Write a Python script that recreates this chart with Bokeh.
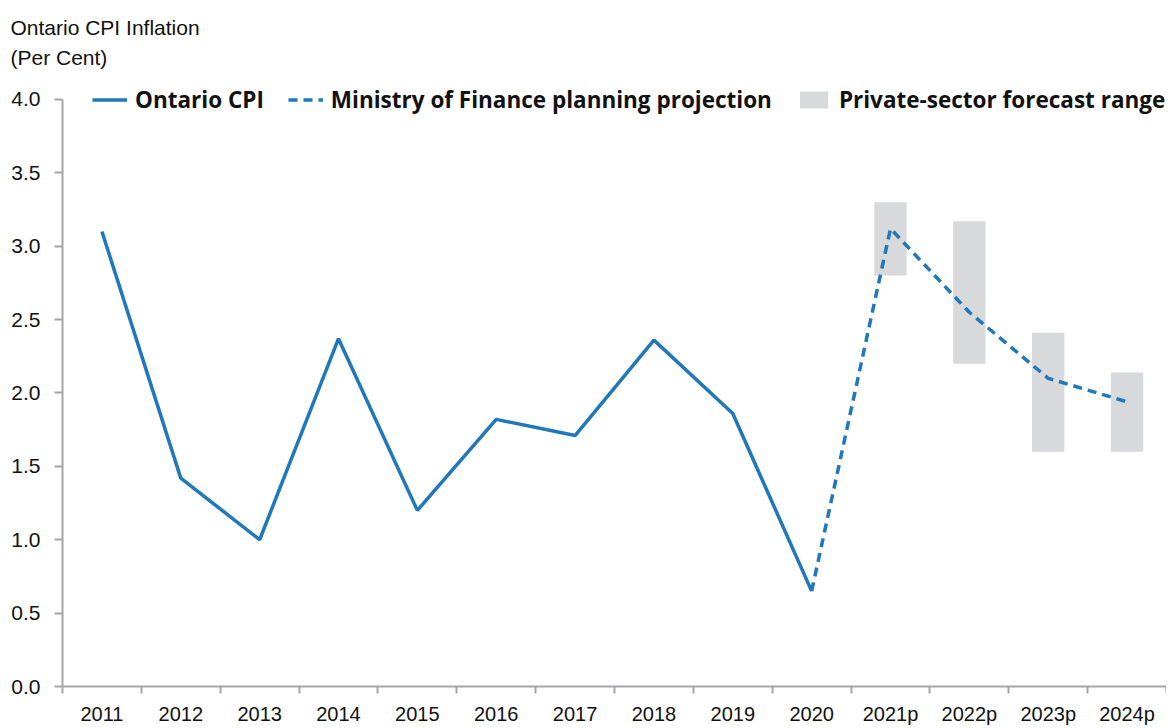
import numpy as np
from bokeh.plotting import figure
from bokeh.models import (Range1d, FixedTicker, Legend, LegendItem, Title)
from bokeh.embed import file_html
from bokeh.resources import INLINE

# ---- data ----
categories = ["2011", "2012", "2013", "2014", "2015", "2016", "2017",
              "2018", "2019", "2020", "2021p", "2022p", "2023p", "2024p"]
ontario_cpi = [3.10, 1.42, 1.00, 2.37, 1.20, 1.82, 1.71, 2.36, 1.86, 0.65]
projection_cats = ["2020", "2021p", "2022p", "2023p", "2024p"]
projection = [0.65, 3.12, 2.55, 2.10, 1.94]
range_cats = ["2021p", "2022p", "2023p", "2024p"]
range_low = [2.80, 2.20, 1.60, 1.60]
range_high = [3.30, 3.17, 2.41, 2.14]
y_ticks = [0.0, 0.5, 1.0, 1.5, 2.0, 2.5, 3.0, 3.5, 4.0]

pos = {c: i + 0.5 for i, c in enumerate(categories)}

BLUE = "#1F77BC"
GREY_AX = "#A6A6AA"
BAR = "#D8D9DB"
TICK_FONT = "Liberation Sans"
LEG_FONT = "Open Sans"

p = figure(width=1166, height=727, output_backend="svg", toolbar_location=None,
           x_range=Range1d(0, len(categories)), y_range=Range1d(0, 4.1293),
           min_border_left=62, min_border_right=0, min_border_top=80,
           min_border_bottom=40)
p.outline_line_color = None
p.xgrid.grid_line_color = None
p.ygrid.grid_line_color = None

# title
p.title = Title(text="Ontario CPI Inflation\n(Per Cent)", align="left", offset=-52,
                text_font=TICK_FONT, text_font_size="21px", text_font_style="normal",
                text_color="#111111", standoff=23, text_line_height=1.3)

# range bars
p.vbar(x=[pos[c] for c in range_cats], width=0.41, bottom=range_low, top=range_high,
       fill_color=BAR, line_color=None)
# ontario cpi
r_cpi = p.line([pos[c] for c in categories[:len(ontario_cpi)]], ontario_cpi,
               line_color=BLUE, line_width=3.5)
r_proj = p.line([pos[c] for c in projection_cats], projection,
                line_color=BLUE, line_width=3.5, line_dash="9 6")
r_box = p.rect(x=[0], y=[0], width=0, height=0, fill_color=BAR, line_color=None)

# axes
xa = p.xaxis[0]
xa.ticker = FixedTicker(ticks=[pos[c] for c in categories],
                        minor_ticks=list(range(len(categories) + 1)))
xa.major_label_overrides = {pos[c]: c for c in categories}
xa.major_tick_out = 0
xa.major_tick_in = 0
xa.minor_tick_out = 7
xa.minor_tick_in = 0
xa.minor_tick_line_color = GREY_AX
xa.minor_tick_line_width = 2
xa.axis_line_color = GREY_AX
xa.axis_line_width = 2
xa.major_label_text_font = TICK_FONT
xa.major_label_text_font_size = "20px"
xa.major_label_text_color = "#111111"
xa.major_label_standoff = 9

ya = p.yaxis[0]
ya.ticker = FixedTicker(ticks=y_ticks)
ya.bounds = (0, 4)
ya.major_label_overrides = {t: f"{t:.1f}" for t in y_ticks}
ya.major_tick_out = 8
ya.major_tick_in = 0
ya.minor_tick_line_color = None
ya.major_tick_line_color = GREY_AX
ya.major_tick_line_width = 2
ya.axis_line_color = GREY_AX
ya.axis_line_width = 2
ya.major_label_text_font = TICK_FONT
ya.major_label_text_font_size = "21px"
ya.major_label_text_color = "#111111"
ya.major_label_standoff = 14

legend = Legend(items=[LegendItem(label="Ontario CPI", renderers=[r_cpi]),
                       LegendItem(label="Ministry of Finance planning projection", renderers=[r_proj]),
                       LegendItem(label="Private-sector forecast range", renderers=[r_box])],
                orientation="horizontal", location=(30, 571),
                label_text_font=LEG_FONT, label_text_font_style="bold",
                label_text_font_size="22.5px", label_text_color="#111111",
                glyph_width=35, glyph_height=21, label_height=28,
                label_standoff=8, spacing=24,
                padding=0, margin=0, border_line_color=None,
                background_fill_alpha=0)
p.add_layout(legend, "center")

open("out.html", "w").write(file_html(p, INLINE))
